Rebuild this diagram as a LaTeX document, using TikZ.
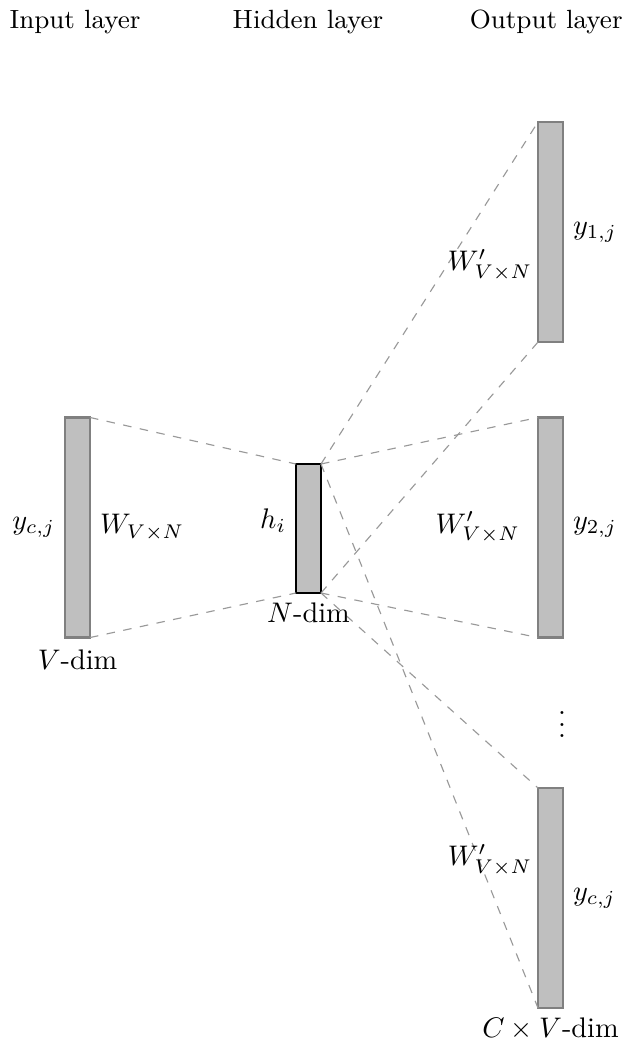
\documentclass[tikz,border=0pt]{standalone}
\usetikzlibrary{positioning}
\begin{document}
\begin{tikzpicture}[x=0.0124cm,y=-0.0124cm,
  vec/.style={draw=gray,fill=lightgray,line width=0.9pt,inner sep=0pt,outer sep=0pt,minimum width=0.31cm,minimum height=2.73cm},
  link/.style={gray!80,dash pattern=on 3pt off 3pt,line width=0.4pt},
  title/.style={font=\fontsize{9.3}{11}\selectfont}]
\useasboundingbox (0,0) rectangle (626,1043);
\node[title] (tin) at (75,22) {Input layer};\node[title] (thid) at (308,22) {Hidden layer};\node[title,anchor=east,inner sep=1pt] (tout) at (626,22) {Output layer};
% vectors
\node[vec] (in) at (77.5,527.5) {};
\node[vec,draw=black,minimum height=1.6cm] (hid) at (308.5,528.5) {};
\node[vec] (o1) at (550.5,232) {};
\node[vec] (o2) at (550.5,527.5) {};
\node[vec] (o3) at (550.5,898) {};
% weights
\draw[link] (in.north east)--(hid.north west);
\draw[link] (in.south east)--(hid.south west);
\draw[link] (hid.north east)--(o1.north west);
\draw[link] (hid.north east)--(o2.north west);
\draw[link] (hid.north east)--(o3.south west);
\draw[link] (hid.south east)--(o1.south west);
\draw[link] (hid.south east)--(o2.south west);
\draw[link] (hid.south east)--(o3.north west);
% labels
\node[left=0pt of in] (yin) {$y_{c,j}$};
\node[right=0pt of in] (win) {$W_{V\times N}$};
\node[below=0.3mm of in] (vdim) {$V$-dim};
\node[left=0pt of hid,yshift=0.1cm] (hi) {$h_i$};
\node[below=0pt of hid] (ndim) {$N$-dim};
\node (w1) at (490,265) {$W'_{V\times N}$};
\node[left=0.1cm of o2] (w2) {$W'_{V\times N}$};
\node (w3) at (490,860) {$W'_{V\times N}$};
\node[right=0pt of o1] (y1) {$y_{1,j}$};
\node[right=0pt of o2] (y2) {$y_{2,j}$};
\node[right=0pt of o3] (y3) {$y_{c,j}$};
\node (dots) at (562,716) {$\vdots$};
\node[below=0pt of o3] (cvdim) {$C\times V$-dim};
\end{tikzpicture}
\end{document}
